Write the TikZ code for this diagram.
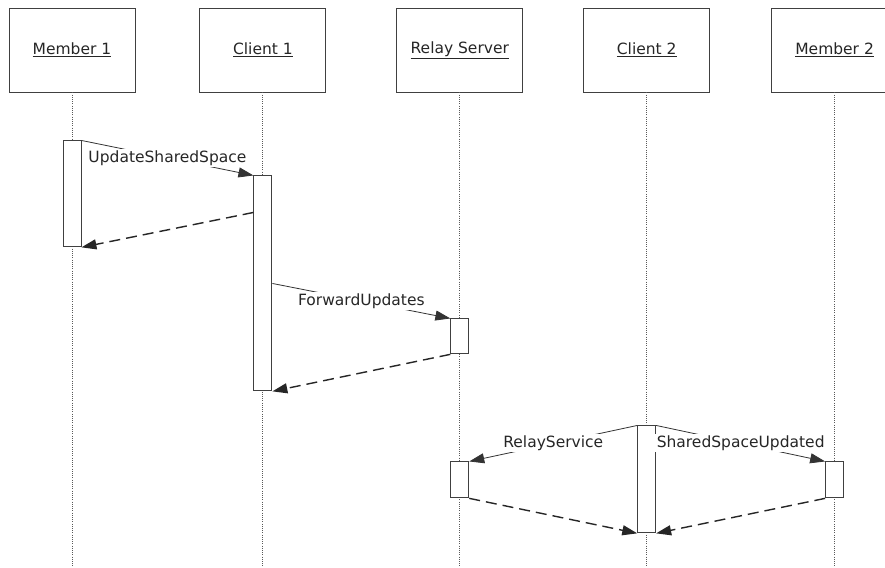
\documentclass[tikz,border=0pt]{standalone}
\usepackage{fontspec}
\setmainfont{DejaVu Sans}
\usepackage{tikz}
\usetikzlibrary{positioning, arrows.meta}
\usetikzlibrary{calc}

\begin{document}
\begin{tikzpicture}[
        x=1pt, y=1pt,
        font=\fontsize{15.5}{18}\selectfont,
        actor/.style={rectangle, minimum width=126pt, minimum height=84pt, text centered, draw=black!75, line width=0.9pt, fill=white, text=black!85},
        activation/.style={rectangle, minimum width=18pt, inner sep=0pt, draw=black!75, line width=0.9pt, fill=white},
        lifeline/.style={black!65, line width=0.9pt, dash pattern=on 1pt off 1.2pt},
        msg/.style={black!80, line width=0.8pt, -{Triangle[length=15pt, width=10pt]}},
        reply/.style={black!85, line width=1.4pt, dash pattern=on 11pt off 6pt, -{Triangle[length=15pt, width=10pt]}},
        msglabel/.style={fill=white, inner sep=1.5pt, text=black!85}
    ]

        \useasboundingbox (0,0) rectangle (885,-567);

        % ===== 参与者 =====
        \node (member1) [actor] at (72,-50) {\underline{Member 1}};
        \node (client1) [actor, right=64pt of member1] {\underline{Client 1}};
        \node (relay) [actor, right=70pt of client1] {\underline{Relay Server}};
        \node (client2) [actor, right=60pt of relay] {\underline{Client 2}};
        \node (member2) [actor, right=61pt of client2] {\underline{Member 2}};

        % ===== 生命线 =====
        \coordinate (bottom) at (0,-567);
        \draw [lifeline] (member1.south) -- (member1.south |- bottom);
        \draw [lifeline] (client1.south) -- (client1.south |- bottom);
        \draw [lifeline] (relay.south) -- (relay.south |- bottom);
        \draw [lifeline] (client2.south) -- (client2.south |- bottom);
        \draw [lifeline] (member2.south) -- (member2.south |- bottom);

        % ===== 激活框 =====
        \node (actM1) [activation, minimum height=106pt, below=48pt of member1] {};
        \node (actC1) [activation, minimum height=215pt, below=83pt of client1] {};
        \node (actR1) [activation, minimum height=35pt, below=226pt of relay] {};
        \node (actR2) [activation, minimum height=36pt, below=369pt of relay] {};
        \node (actC2) [activation, minimum height=107pt, below=333pt of client2] {};
        \node (actM2) [activation, minimum height=36pt, below=369pt of member2] {};

        % ===== 消息 =====
        % 更新共享空间
        \draw [msg] (actM1.north east) -- node[msglabel] {UpdateSharedSpace} (actC1.north west);
        \draw [reply] ($(actC1.north west)+(0,-37)$) -- (actM1.south east);

        % 转发更新
        \draw [msg] ($(actC1.north east)+(0,-108)$) -- node[msglabel] {ForwardUpdates} (actR1.north west);
        \draw [reply] (actR1.south west) -- (actC1.south east);

        % 中继与通知
        \draw [msg] (actC2.north west) -- node[msglabel] {RelayService} (actR2.north east);
        \draw [msg] (actC2.north east) -- node[msglabel] {SharedSpaceUpdated} (actM2.north west);
        \draw [reply] (actR2.south east) -- (actC2.south west);
        \draw [reply] (actM2.south west) -- (actC2.south east);

    \end{tikzpicture}
\end{document}
